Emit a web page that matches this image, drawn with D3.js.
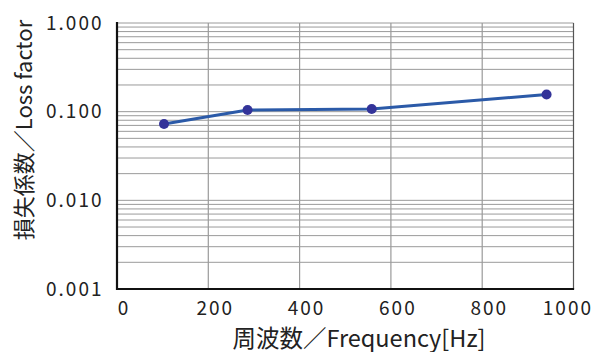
<!DOCTYPE html>
<html><head><meta charset="utf-8">
<script src="https://cdn.jsdelivr.net/npm/d3@7"></script>
<style>body{margin:0;background:#fff}text{font-family:"Noto Sans CJK JP","Noto Sans",sans-serif}.tk{font-family:"Noto Sans CJK JP","Noto Sans",sans-serif}</style>
</head><body><svg id="c" width="594" height="352"></svg>
<script>
const freq = [103, 286, 558, 941];
const lossFactor = [0.0726, 0.1045, 0.107, 0.156];
const xTicks = [0, 200, 400, 600, 800, 1000];
const yTicks = [0.001, 0.01, 0.1, 1];
const yTickLabels = ["0.001", "0.010", "0.100", "1.000"];
const xTitle = "周波数／Frequency[Hz]";
const yTitle = "損失係数／Loss factor";

const svg = d3.select("#c");
const L = 117, R = 573.5, T = 23, B = 289;
const x = d3.scaleLinear().domain([0, 1000]).range([L, R]);
const y = d3.scaleLog().domain([0.001, 1]).range([B, T]);

// horizontal minor gridlines
const hg = [];
for (let e = -3; e < 0; e++) for (let m = 1; m <= 9; m++) hg.push(m * Math.pow(10, e));
hg.push(1);
svg.append("g").selectAll("line").data(hg).join("line")
  .attr("x1", L).attr("x2", R).attr("y1", d => y(d)).attr("y2", d => y(d))
  .attr("stroke", "#9a9a9a").attr("stroke-width", 1);
svg.append("g").selectAll("line").data(xTicks.slice(1, -1)).join("line")
  .attr("x1", d => x(d)).attr("x2", d => x(d)).attr("y1", T).attr("y2", B)
  .attr("stroke", "#9a9a9a").attr("stroke-width", 1.2);
// right border
svg.append("line").attr("x1", R).attr("x2", R).attr("y1", T).attr("y2", B).attr("stroke", "#555").attr("stroke-width", 1.2);
// axes
svg.append("line").attr("x1", L).attr("x2", L).attr("y1", T - 1).attr("y2", B + 1).attr("stroke", "#111").attr("stroke-width", 2.2);
svg.append("line").attr("x1", L - 1).attr("x2", R + 0.6).attr("y1", B).attr("y2", B).attr("stroke", "#111").attr("stroke-width", 2.2);

// tick labels
const xl = svg.append("g").selectAll("text").data(xTicks).join("text")
  .attr("class", "tk")
  .attr("x", d => x(d) + 7).attr("y", 315).attr("text-anchor", "middle")
  .attr("font-size", 19).attr("letter-spacing", 2).attr("fill", "#222").text(d => d);
xl.each(function(d) {
  const bb = this.getBBox();
  if (bb.x + bb.width > 593) d3.select(this).attr("x", x(d) + 7 - (bb.x + bb.width - 593));
});
svg.append("g").selectAll("text").data(yTicks).join("text")
  .attr("class", "tk")
  .attr("x", 103.5).attr("y", d => y(d) + 6.5).attr("text-anchor", "end")
  .attr("font-size", 19).attr("letter-spacing", 2).attr("fill", "#222").text((d, i) => yTickLabels[i]);

// titles
svg.append("text").attr("x", 359).attr("y", 346.5).attr("text-anchor", "middle")
  .attr("font-size", 23.5).attr("fill", "#222").text(xTitle);
svg.append("text").attr("transform", "translate(32,130) rotate(-90)").attr("text-anchor", "middle")
  .attr("font-size", 22).attr("fill", "#222").text(yTitle);

// series
const pts = freq.map((f, i) => [f, lossFactor[i]]);
svg.append("path").datum(pts)
  .attr("d", d3.line().x(d => x(d[0])).y(d => y(d[1])))
  .attr("fill", "none").attr("stroke", "#2b5aa8").attr("stroke-width", 3);
svg.append("g").selectAll("circle").data(pts).join("circle")
  .attr("cx", d => x(d[0])).attr("cy", d => y(d[1])).attr("r", 5)
  .attr("fill", "#333399");
</script></body></html>
